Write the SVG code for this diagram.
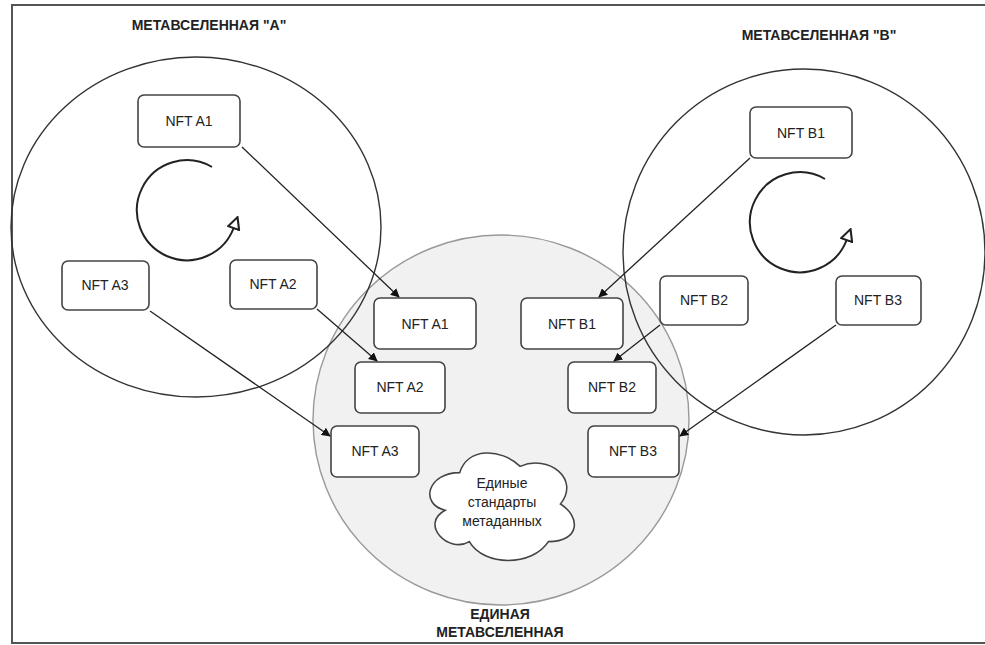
<svg xmlns="http://www.w3.org/2000/svg" width="985" height="645" viewBox="0 0 985 645">
<style>
.box{fill:#fff;stroke:#444;stroke-width:1.6}
.lbl{font-family:"Liberation Sans",Arial,sans-serif;font-size:14px;fill:#222;text-anchor:middle}
.ttl{font-family:"Liberation Sans",Arial,sans-serif;font-size:14px;font-weight:bold;fill:#222;text-anchor:middle}
.uni{fill:none;stroke:#333;stroke-width:1.4}
.con{fill:none;stroke:#222;stroke-width:1.3}
.rot{fill:none;stroke:#222;stroke-width:2}
</style>
<defs>
<marker id="ah" viewBox="0 0 10 10" refX="9" refY="5" markerWidth="9" markerHeight="9" markerUnits="userSpaceOnUse" orient="auto">
<path d="M0,0 L10,5 L0,10 Z" fill="#111"/>
</marker>
<marker id="oh" viewBox="0 0 12 12" refX="2" refY="6" markerWidth="14" markerHeight="14" markerUnits="userSpaceOnUse" orient="auto">
<path d="M1,1 L11,6 L1,11 Z" fill="#fff" stroke="#222" stroke-width="1.8"/>
</marker>
</defs>
<rect width="985" height="645" fill="#fff"/>
<rect x="12" y="5" width="980" height="638" fill="none" stroke="#555" stroke-width="2"/>

<g id="universe-center">
<ellipse cx="501" cy="420" rx="188" ry="185" fill="#f1f1f1" stroke="#999" stroke-width="1.4"/>
<text class="ttl" x="500" y="619" font-size="13">ЕДИНАЯ</text>
<text class="ttl" x="500" y="637" font-size="13">МЕТАВСЕЛЕННАЯ</text>
</g>
<g id="universe-a">
<ellipse class="uni" cx="196" cy="227" rx="185" ry="170"/>
<text class="ttl" x="209" y="30">МЕТАВСЕЛЕННАЯ "А"</text>
<path class="rot" d="M212,167 A50,50 0 1 0 234,227" marker-end="url(#oh)"/>
</g>
<g id="universe-b">
<ellipse class="uni" cx="804" cy="252" rx="181" ry="183"/>
<text class="ttl" x="819" y="40">МЕТАВСЕЛЕННАЯ "В"</text>
<path class="rot" d="M825,179 A50,50 0 1 0 847,239" marker-end="url(#oh)"/>
</g>

<g id="cloud">
<path transform="translate(500 504) scale(1.12) translate(-500 -504)" d="M464,476 C435.2,476 428,504 451,509.6 C428,521.9 453.9,548.8 472.6,537.6 C485.6,560 528.8,560 543.2,537.6 C572,537.6 572,515.2 554,504 C572,481.6 543.2,459.2 518,470.4 C500,453.6 471.2,453.6 464,476 Z" fill="#fff" stroke="#444" stroke-width="1.4"/>
<text class="lbl" x="502" y="488" font-size="13.5">Единые</text>
<text class="lbl" x="502" y="507" font-size="13.5">стандарты</text>
<text class="lbl" x="502" y="526" font-size="13.5">метаданных</text>
</g>

<g id="a-nft-a1"><rect class="box" x="138" y="95" width="102" height="52" rx="6"/><text class="lbl" x="189" y="126">NFT A1</text></g>
<g id="a-nft-a2"><rect class="box" x="230" y="260" width="87" height="49" rx="6"/><text class="lbl" x="273" y="289">NFT A2</text></g>
<g id="a-nft-a3"><rect class="box" x="62" y="261" width="87" height="49" rx="6"/><text class="lbl" x="105" y="290">NFT A3</text></g>
<g id="b-nft-b1"><rect class="box" x="750" y="107" width="102" height="51" rx="6"/><text class="lbl" x="801" y="138">NFT B1</text></g>
<g id="b-nft-b2"><rect class="box" x="660" y="276" width="88" height="49" rx="6"/><text class="lbl" x="704" y="305">NFT B2</text></g>
<g id="b-nft-b3"><rect class="box" x="836" y="276" width="85" height="49" rx="6"/><text class="lbl" x="878" y="305">NFT B3</text></g>

<g id="c-nft-a1"><rect class="box" x="374" y="298" width="102" height="51" rx="6"/><text class="lbl" x="425" y="329">NFT A1</text></g>
<g id="c-nft-a2"><rect class="box" x="355" y="362" width="90" height="51" rx="6"/><text class="lbl" x="400" y="392">NFT A2</text></g>
<g id="c-nft-a3"><rect class="box" x="331" y="426" width="88" height="51" rx="6"/><text class="lbl" x="375" y="456">NFT A3</text></g>
<g id="c-nft-b1"><rect class="box" x="521" y="298" width="102" height="51" rx="6"/><text class="lbl" x="572" y="329">NFT B1</text></g>
<g id="c-nft-b2"><rect class="box" x="568" y="362" width="88" height="51" rx="6"/><text class="lbl" x="612" y="392">NFT B2</text></g>
<g id="c-nft-b3"><rect class="box" x="588" y="426" width="91" height="51" rx="6"/><text class="lbl" x="633" y="456">NFT B3</text></g>

<g id="connectors">
<line class="con" x1="242" y1="147" x2="399" y2="297" marker-end="url(#ah)"/>
<line class="con" x1="317" y1="309" x2="377" y2="361" marker-end="url(#ah)"/>
<line class="con" x1="150" y1="311" x2="330" y2="436" marker-end="url(#ah)"/>
<line class="con" x1="750" y1="158" x2="599" y2="297" marker-end="url(#ah)"/>
<line class="con" x1="660" y1="325" x2="614" y2="361" marker-end="url(#ah)"/>
<line class="con" x1="836" y1="325" x2="680" y2="436" marker-end="url(#ah)"/>
</g>
</svg>
